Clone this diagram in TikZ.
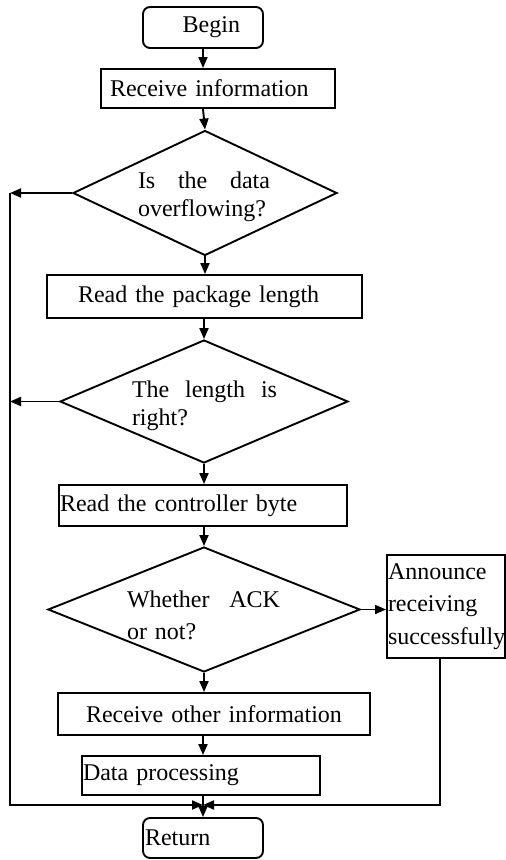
\documentclass[tikz,border=0pt]{standalone}
\usepackage{fontspec}
\setmainfont{Liberation Serif}
\usetikzlibrary{
  calc,shapes.geometric,positioning,
  arrows.meta
}

\begin{document}
\begin{tikzpicture}[x=1pt,y=1pt,line width=1.9pt,
  procbox/.style={draw,rectangle,inner ysep=0pt,align=left,
    font=\fontsize{24pt}{32pt}\selectfont},
  termbox/.style={procbox,rounded corners=7pt},
  decision/.style={draw,diamond,inner sep=0pt},
  qtext/.style={inner sep=0pt,align=left,font=\fontsize{24pt}{28pt}\selectfont},
  arr/.style={-{Triangle[length=11pt,width=9pt]}}]

\useasboundingbox (0,0) rectangle (506,-860);

\node[termbox,align=right,text width=74pt,inner xsep=23pt,minimum height=41pt] (begin) at (203,-27.5) {Begin};
\node[procbox,text width=216pt,inner xsep=9pt,minimum height=39pt] (recv) at (218,-88.5) {Receive information};
\node[decision,minimum width=264pt,minimum height=125pt] (q1) at (205,-193) {};
\node[qtext,text width=132pt] (q1t) at (204,-197) {Is\hfill the\hfill data\\overflowing?};
\node[procbox,text width=253pt,inner xsep=31pt,minimum height=43pt] (pkg) at (204.5,-296.5) {Read the package length};
\node[decision,minimum width=288pt,minimum height=123pt] (q2) at (204,-401.5) {};
\node[qtext,text width=145pt] (q2t) at (204.5,-405.5) {The\hfill length\hfill is\\right?};
\node[procbox,text width=286pt,inner xsep=1pt,minimum height=41pt] (ctrl) at (203,-505.5) {Read the controller byte};
\node[decision,minimum width=312pt,minimum height=125pt] (q3) at (204,-609.5) {};
\node[qtext,text width=153pt,font=\fontsize{24pt}{32pt}\selectfont] (q3t) at (203.5,-615.5) {Whether\hfill ACK\\or not?};
\node[procbox,text width=116pt,inner xsep=1pt,minimum height=103pt,font=\fontsize{24pt}{32.5pt}\selectfont] (ann) at (446,-606.5) {Announce\\receiving\\successfully};
\node[procbox,text width=256pt,inner xsep=28pt,minimum height=42pt] (oth) at (214,-714) {Receive other information};
\node[procbox,text width=236pt,inner xsep=1pt,minimum height=39pt] (dp) at (201,-775.5) {Data processing};
\node[termbox,text width=116pt,inner xsep=2pt,minimum height=40pt] (ret) at (203,-838) {Return};

\coordinate (lft) at (10,-805);
\coordinate (mrg) at (203,-805);

\draw[arr] (begin.south) -- (begin.south |- recv.north);
\draw[arr] (recv.south -| begin) -- (q1.north);
\draw[arr] (q1.south) -- (q1.south |- pkg.north);
\draw[arr] (pkg.south -| q2.north) -- (q2.north);
\draw[arr] (q2.south) -- (q2.south |- ctrl.north);
\draw[arr] (ctrl.south -| q3.north) -- (q3.north);
\draw[arr] (q3.south) -- (q3.south |- oth.north);
\draw[arr] (oth.south -| ret) -- (ret |- dp.north);
\draw[arr] (dp.south -| ret) -- (ret.north);
\draw[arr] (q3.east) -- (q3.east -| ann.west);

\draw[arr] (q1.west) -- (q1.west -| lft);
\draw[arr] (q2.west) -- (q2.west -| lft);
\draw[arr] (q1.west -| lft) -- (lft) -- (mrg);
\draw[arr] ([xshift=-6pt]ann.south) |- (mrg);
\end{tikzpicture}
\end{document}
